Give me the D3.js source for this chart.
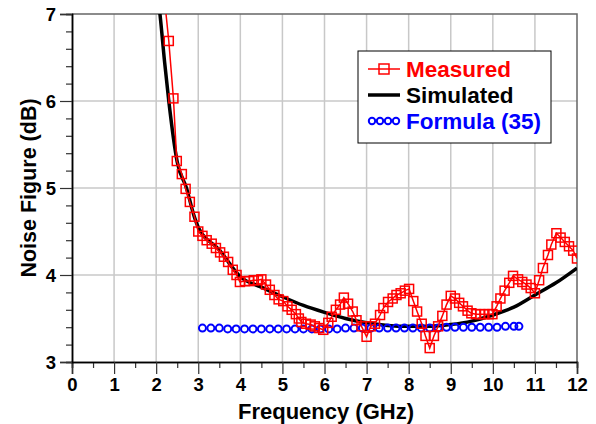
<!doctype html>
<html>
<head>
<meta charset="utf-8">
<title>Noise Figure</title>
<script src="https://cdnjs.cloudflare.com/ajax/libs/d3/7.8.5/d3.min.js"></script>
<style>
  body { margin: 0; background: #fff; }
  text { font-family: "Liberation Sans", Arial, sans-serif; font-weight: bold; }
</style>
</head>
<body>
<div id="chart"></div>
<script>
// measured noise figure (GHz, dB)
const measFreq = [2.17, 2.30, 2.41, 2.49, 2.61, 2.70, 2.80, 2.91, 3.00, 3.10, 3.20, 3.32, 3.42, 3.52, 3.61, 3.71, 3.82, 3.91, 3.99,
  4.11, 4.21, 4.32, 4.42, 4.50, 4.61, 4.70, 4.81, 4.91, 5.02, 5.12, 5.22, 5.32, 5.39, 5.45, 5.56, 5.67, 5.77, 5.87, 5.97,
  6.09, 6.17, 6.27, 6.37, 6.46, 6.56, 6.67, 6.76, 6.88, 7.00, 7.10, 7.20, 7.32, 7.40, 7.51, 7.62, 7.71, 7.81, 7.91, 8.01,
  8.11, 8.20, 8.31, 8.40, 8.50, 8.60, 8.70, 8.80, 8.90, 9.00, 9.10, 9.20, 9.29, 9.40, 9.49, 9.60, 9.70, 9.80, 9.90, 9.99,
  10.09, 10.18, 10.28, 10.39, 10.48, 10.60, 10.70, 10.80, 10.90, 11.00, 11.10, 11.19, 11.31, 11.39, 11.51, 11.61, 11.71, 11.81, 11.91, 12.00];
const measNF = [7.3, 6.69, 6.03, 5.31, 5.16, 4.99, 4.84, 4.67, 4.50, 4.45, 4.40, 4.36, 4.31, 4.26, 4.21, 4.15, 4.06, 4.00, 3.92,
  3.93, 3.93, 3.94, 3.94, 3.95, 3.89, 3.83, 3.77, 3.72, 3.70, 3.64, 3.60, 3.55, 3.50, 3.46, 3.44, 3.43, 3.41, 3.39, 3.37,
  3.45, 3.52, 3.60, 3.66, 3.74, 3.67, 3.58, 3.48, 3.41, 3.29, 3.41, 3.44, 3.54, 3.62, 3.69, 3.73, 3.77, 3.79, 3.82, 3.84,
  3.70, 3.58, 3.44, 3.30, 3.16, 3.30, 3.41, 3.53, 3.66, 3.76, 3.73, 3.68, 3.64, 3.59, 3.56, 3.55, 3.55, 3.55, 3.55, 3.55,
  3.64, 3.73, 3.82, 3.91, 3.99, 3.95, 3.92, 3.89, 3.85, 3.79, 3.94, 4.08, 4.23, 4.35, 4.48, 4.43, 4.38, 4.33, 4.28, 4.19];

// simulated noise figure
const simFreq = [2.0, 2.09, 2.2, 2.3, 2.5, 2.72, 2.9, 3.0, 3.5, 4.0, 4.5, 5.0, 5.5, 6.0, 6.5, 7.0, 7.5, 8.0, 8.5, 9.0, 9.5, 10.0, 10.5, 11.0, 11.5, 12.0];
const simNF = [7.35, 7.0, 6.45, 6.0, 5.3, 5.0, 4.68, 4.55, 4.29, 3.98, 3.86, 3.75, 3.65, 3.57, 3.50, 3.45, 3.42, 3.41, 3.41, 3.43, 3.47, 3.54, 3.63, 3.77, 3.91, 4.08];

// formula (35)
const formFreq = [3.1, 3.3, 3.5, 3.7, 3.9, 4.1, 4.3, 4.5, 4.7, 4.9, 5.1, 5.3, 5.5, 5.7, 5.9, 6.1, 6.3, 6.5, 6.7, 6.9,
  7.1, 7.3, 7.5, 7.7, 7.9, 8.1, 8.3, 8.5, 8.7, 8.9, 9.1, 9.3, 9.5, 9.7, 9.9, 10.1, 10.3, 10.5, 10.62];
const formNF = [3.39, 3.39, 3.39, 3.38, 3.38, 3.38, 3.38, 3.38, 3.38, 3.38, 3.38, 3.38, 3.38, 3.38, 3.38, 3.38, 3.38, 3.39, 3.39, 3.39,
  3.39, 3.39, 3.39, 3.39, 3.39, 3.39, 3.39, 3.39, 3.39, 3.40, 3.40, 3.40, 3.40, 3.40, 3.40, 3.40, 3.41, 3.41, 3.41];

const xTicks = d3.range(0, 13);
const yTicks = [3, 4, 5, 6, 7];
const legendNames = ["Measured", "Simulated", "Formula (35)"];

const W = 596, H = 424;
const x = d3.scaleLinear().domain([0, 12]).range([72, 577]);
const y = d3.scaleLinear().domain([3, 7]).range([362, 14]);

const svg = d3.select("#chart").append("svg").attr("width", W).attr("height", H);

svg.append("defs").append("clipPath").attr("id", "clip")
  .append("rect").attr("x", 72).attr("y", 14).attr("width", 505).attr("height", 348);

// grid
svg.append("g").selectAll("line").data(xTicks.slice(1, -1)).join("line")
  .attr("x1", d => x(d)).attr("x2", d => x(d)).attr("y1", 14).attr("y2", 362)
  .attr("stroke", "#c8c8c8").attr("stroke-width", 1.5);
svg.append("g").selectAll("line").data(yTicks.slice(1, -1)).join("line")
  .attr("y1", d => y(d)).attr("y2", d => y(d)).attr("x1", 72).attr("x2", 577)
  .attr("stroke", "#c8c8c8").attr("stroke-width", 1.5);

// top / right frame
svg.append("path").attr("d", `M72,14H577V362`).attr("fill", "none").attr("stroke", "#666").attr("stroke-width", 1.5);

// axes
const xMinor = svg.append("g").attr("transform", "translate(0,362)")
  .call(d3.axisBottom(x).tickValues(d3.range(0.5, 12, 1)).tickSize(6).tickFormat(""));
const xAxis = svg.append("g").attr("transform", "translate(0,362)")
  .call(d3.axisBottom(x).tickValues(xTicks).tickSize(12).tickPadding(4).tickFormat(d3.format("d")));
const yMinor = svg.append("g").attr("transform", "translate(72,0)")
  .call(d3.axisLeft(y).tickValues(d3.range(3.2, 7, 0.2).filter(v => Math.abs(v - Math.round(v)) > 0.01)).tickSize(6).tickFormat(""));
const yAxis = svg.append("g").attr("transform", "translate(72,0)")
  .call(d3.axisLeft(y).tickValues(yTicks).tickSize(12).tickPadding(4).tickFormat(d3.format("d")));

[xMinor, xAxis, yMinor, yAxis].forEach(g => {
  g.select(".domain").attr("stroke", "#000").attr("stroke-width", 1.5);
  g.selectAll(".tick line").attr("stroke", "#333").attr("stroke-width", 1.2);
  g.selectAll(".tick text").attr("fill", "#000").style("font-size", "18.5px")
    .style("font-family", "'Liberation Sans', Arial, sans-serif").style("font-weight", "bold");
});
yAxis.selectAll(".tick text").attr("dy", "0.36em");

// axis titles
svg.append("text").attr("x", 326).attr("y", 419).attr("text-anchor", "middle")
  .style("font-size", "22px").text("Frequency (GHz)");
svg.append("text").attr("transform", "translate(36,188) rotate(-90)").attr("text-anchor", "middle")
  .style("font-size", "21.5px").text("Noise Figure (dB)");

const plot = svg.append("g").attr("clip-path", "url(#clip)");

// simulated
plot.append("path").datum(simFreq.map((f, i) => [f, simNF[i]]))
  .attr("d", d3.line().x(d => x(d[0])).y(d => y(d[1])).curve(d3.curveMonotoneX))
  .attr("fill", "none").attr("stroke", "#000").attr("stroke-width", 3.5);

// formula
plot.append("g").selectAll("circle").data(formFreq.map((f, i) => [f, formNF[i]])).join("circle")
  .attr("cx", d => x(d[0])).attr("cy", d => y(d[1])).attr("r", 3.5)
  .attr("fill", "none").attr("stroke", "#0000ff").attr("stroke-width", 2);

// measured
const meas = measFreq.map((f, i) => [f, measNF[i]]);
plot.append("path").datum(meas)
  .attr("d", d3.line().x(d => x(d[0])).y(d => y(d[1])))
  .attr("fill", "none").attr("stroke", "#ff0000").attr("stroke-width", 1.5);
plot.append("g").selectAll("rect").data(meas).join("rect")
  .attr("x", d => x(d[0]) - 4.5).attr("y", d => y(d[1]) - 4.5).attr("width", 9).attr("height", 9)
  .attr("fill", "none").attr("stroke", "#ff0000").attr("stroke-width", 1.5);

// legend
const lg = svg.append("g");
lg.append("rect").attr("x", 358).attr("y", 51).attr("width", 193).attr("height", 92)
  .attr("fill", "#fff").attr("stroke", "#000").attr("stroke-width", 1);
const rowY = [69, 95, 121];
const colors = ["#ff0000", "#000", "#0000ff"];
lg.append("line").attr("x1", 368).attr("x2", 400).attr("y1", rowY[0]).attr("y2", rowY[0]).attr("stroke", colors[0]).attr("stroke-width", 1.5);
lg.append("rect").attr("x", 379).attr("y", rowY[0] - 5).attr("width", 10).attr("height", 10)
  .attr("fill", "none").attr("stroke", colors[0]).attr("stroke-width", 1.5);
lg.append("line").attr("x1", 368).attr("x2", 400).attr("y1", rowY[1]).attr("y2", rowY[1]).attr("stroke", colors[1]).attr("stroke-width", 3.5);
lg.append("g").selectAll("circle").data([372, 380, 388, 396]).join("circle")
  .attr("cx", d => d).attr("cy", rowY[2]).attr("r", 3.2)
  .attr("fill", "none").attr("stroke", colors[2]).attr("stroke-width", 2);
lg.selectAll("text.lab").data(legendNames).join("text").attr("class", "lab")
  .attr("x", 406).attr("y", (d, i) => rowY[i] + 8)
  .attr("fill", (d, i) => colors[i]).style("font-size", "22.5px").text(d => d);
</script>
</body>
</html>
